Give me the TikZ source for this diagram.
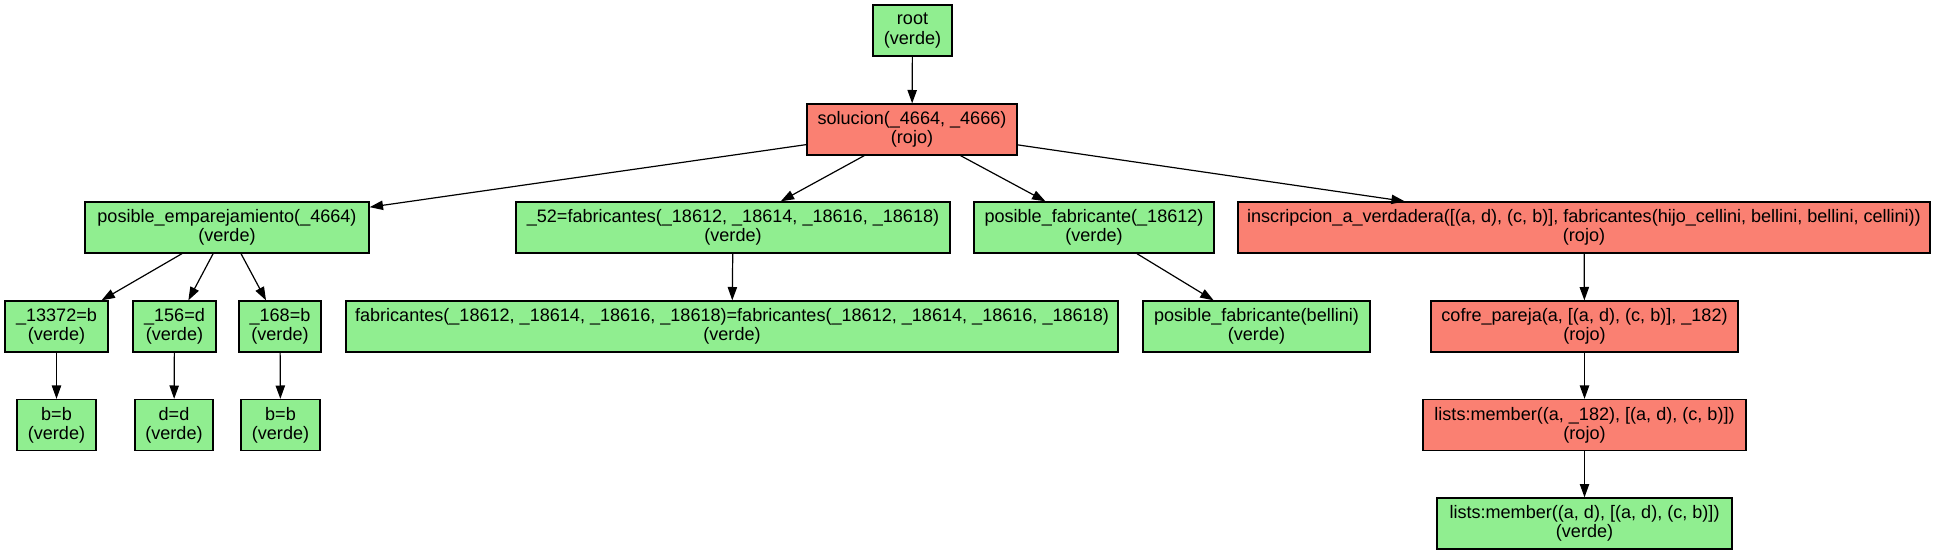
\documentclass[tikz,border=0pt]{standalone}
\usepackage{fontspec}
\setmainfont{Liberation Sans}
\usetikzlibrary{arrows.meta}
\definecolor{vgreen}{HTML}{90EE90}
\definecolor{vred}{HTML}{FA8072}
\tikzset{
  nbox/.style={draw=black, line width=1pt, rectangle, inner sep=0pt,
    minimum height=38.25pt, minimum width={#1*0.75pt}, align=center,
    font=\fontsize{13.55pt}{14.4pt}\selectfont},
  gbox/.style={nbox=#1, fill=vgreen},
  rbox/.style={nbox=#1, fill=vred},
  arr/.style={draw=black, line width=0.9pt, -{Triangle[length=10pt,width=7pt]}}
}
\begin{document}
\begin{tikzpicture}[x=0.75pt,y=-0.75pt]
\useasboundingbox (0,0) rectangle (1937,555);
% level 0
\node[gbox=79] (root) at (912.5,30.5) {root\\(verde)};
% level 1
\node[rbox=210] (sol) at (912,129.5) {solucion(\_4664, \_4666)\\(rojo)};
% level 2
\node[gbox=284] (pe) at (227,227.5) {posible\_emparejamiento(\_4664)\\(verde)};
\node[gbox=434] (f52) at (733,227.5) {\_52=fabricantes(\_18612, \_18614, \_18616, \_18618)\\(verde)};
\node[gbox=240] (pf) at (1094,227.5) {posible\_fabricante(\_18612)\\(verde)};
\node[rbox=692] (ins) at (1584,227.5) {inscripcion\_a\_verdadera([(a, d), (c, b)], fabricantes(hijo\_cellini, bellini, bellini, cellini))\\(rojo)};
% level 3
\node[gbox=103] (n13372) at (56.5,326.5) {\_13372=b\\(verde)};
\node[gbox=83] (n156) at (174.5,326.5) {\_156=d\\(verde)};
\node[gbox=82] (n168) at (280,326.5) {\_168=b\\(verde)};
\node[gbox=772] (fab) at (732,326.5) {fabricantes(\_18612, \_18614, \_18616, \_18618)=fabricantes(\_18612, \_18614, \_18616, \_18618)\\(verde)};
\node[gbox=227] (pfb) at (1256.5,326.5) {posible\_fabricante(bellini)\\(verde)};
\node[rbox=307] (cofre) at (1584.5,326.5) {cofre\_pareja(a, [(a, d), (c, b)], \_182)\\(rojo)};
% level 4
\node[gbox=79] (bb1) at (56.5,425) {b=b\\(verde)};
\node[gbox=78] (dd) at (174,425) {d=d\\(verde)};
\node[gbox=79] (bb2) at (280.5,425) {b=b\\(verde)};
\node[rbox=323] (mem1) at (1584.5,425) {lists:member((a, \_182), [(a, d), (c, b)])\\(rojo)};
% level 5
\node[gbox=295] (mem2) at (1584.5,523.5) {lists:member((a, d), [(a, d), (c, b)])\\(verde)};
% edges
\draw[arr] (root) -- (sol);
\draw[arr] (sol) -- (pe);
\draw[arr] (sol) -- (f52);
\draw[arr] (sol) -- (pf);
\draw[arr] (sol) -- (ins);
\draw[arr] (pe) -- (n13372);
\draw[arr] (pe) -- (n156);
\draw[arr] (pe) -- (n168);
\draw[arr] (f52) -- (fab);
\draw[arr] (pf) -- (pfb);
\draw[arr] (ins) -- (cofre);
\draw[arr] (n13372) -- (bb1);
\draw[arr] (n156) -- (dd);
\draw[arr] (n168) -- (bb2);
\draw[arr] (cofre) -- (mem1);
\draw[arr] (mem1) -- (mem2);
\end{tikzpicture}
\end{document}
